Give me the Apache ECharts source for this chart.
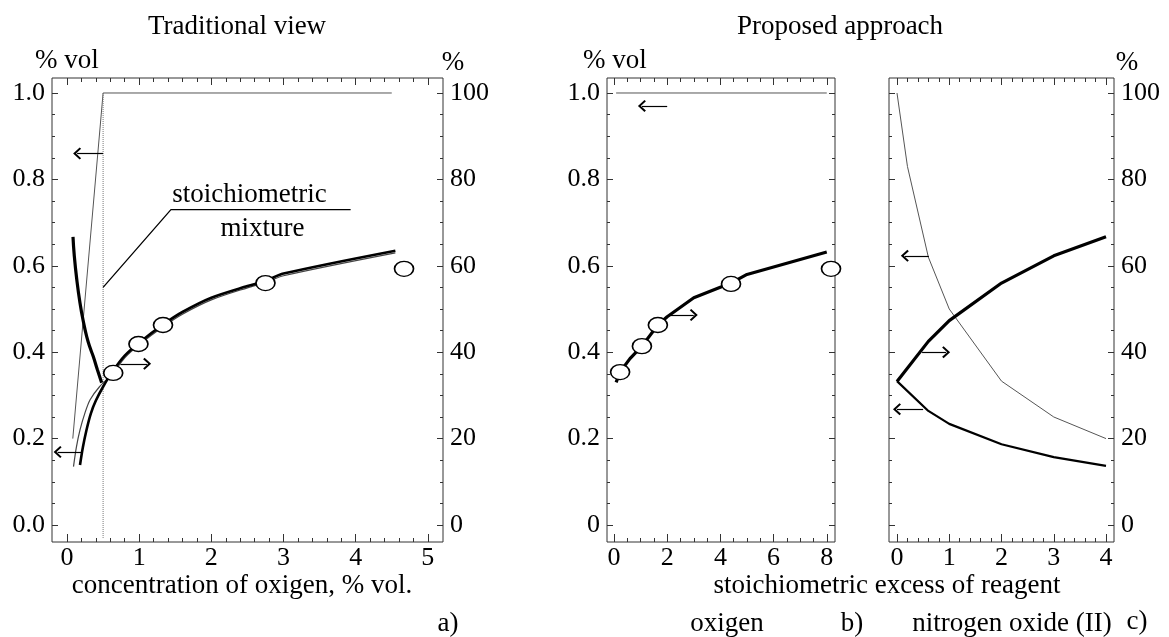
<!DOCTYPE html>
<html>
<head>
<meta charset="utf-8">
<script src="https://cdn.jsdelivr.net/npm/echarts@6/dist/echarts.min.js"></script>
<style>
  html, body { margin: 0; padding: 0; background: #fff; }
  #chart { width: 1169px; height: 637px; }
</style>
</head>
<body>
<div id="chart"></div>
<script>
var FONT = 'Liberation Serif'
var INK = '#000'
var FRAME = '#333'
var GRAY = '#555'
var TICK_FONT = 26
var TEXT_FONT = 27

// ---- panel a) traditional view ----
var aXTicks = [0, 1, 2, 3, 4, 5]
var aXLabels = ['0', '1', '2', '3', '4', '5']
var aOxygenLine = [[0.08, 0.2], [0.5, 1.0], [4.5, 1.0]]
var aStoichLine = [[0.5, 1.0], [0.5, -0.03]]
var aLeftThick = [[0.083, 0.667], [0.1, 0.625], [0.134, 0.57], [0.18, 0.514], [0.23, 0.468],
  [0.273, 0.436], [0.32, 0.41], [0.364, 0.39], [0.42, 0.36], [0.48, 0.329]]
var aRightBlack = [[0.18, 13.9], [0.22, 18], [0.27, 22], [0.33, 25.8], [0.4, 28.8], [0.5, 32],
  [0.63, 35.5], [0.8, 39.2], [1.0, 42.2], [1.35, 46.6], [1.6, 49.3], [2.0, 52.6], [2.5, 55.3],
  [2.75, 56.5], [3.0, 58.2], [4.55, 63.5]]
var aRightGray = [[0.09, 13.5], [0.13, 18], [0.18, 22], [0.25, 26], [0.32, 29], [0.45, 32],
  [0.63, 35], [0.8, 38.7], [1.0, 41.7], [1.35, 46.1], [1.6, 48.8], [2.0, 52.1], [2.5, 54.9],
  [2.75, 56.1], [3.0, 57.7], [4.55, 63.0]]
var aCircles = [[0.64, 35.2], [0.99, 41.9], [1.33, 46.3], [2.75, 56.0], [4.67, 59.3]]
var aLeader = [[0.5, 0.55], [1.44, 0.73], [3.93, 0.73]]
var aArrows = [[[0.5, 0.86], [0.14, 0.86]], [[0.22, 0.169], [-0.13, 0.169]], [[0.74, 0.373], [1.11, 0.373]]]

// ---- panel b) proposed approach, oxigen ----
var bXTicks = [0, 2, 4, 6, 8]
var bXLabels = ['0', '2', '4', '6', '8']
var bRefLine = [[0.08, 1.0], [8.0, 1.0]]
var bCurve = [[0.08, 33], [0.23, 35.4], [0.6, 38.5], [1.05, 41.4], [1.65, 46.3], [2.0, 48.2],
  [3.0, 52.6], [4.4, 56.0], [5.0, 58.0], [8.0, 63.2]]
var bCircles = [[0.23, 35.4], [1.05, 41.4], [1.65, 46.3], [4.4, 55.8], [8.16, 59.3]]
var bArrows = [[[2.0, 0.97], [1.05, 0.97]], [[2.1, 0.486], [3.0, 0.486]]]

// ---- panel c) proposed approach, nitrogen oxide (II) ----
var cXTicks = [0, 1, 2, 3, 4]
var cXLabels = ['0', '1', '2', '3', '4']
var cThin = [[0, 1.0], [0.2, 0.83], [0.6, 0.62], [1.0, 0.5], [2.0, 0.333], [3.0, 0.25], [4.0, 0.2]]
var cUpper = [[0, 33.2], [0.6, 42.5], [1.0, 47.3], [2.0, 56.0], [3.0, 62.3], [4.0, 66.7]]
var cLower = [[0, 0.333], [0.6, 0.264], [1.0, 0.234], [2.0, 0.187], [3.0, 0.157], [4.0, 0.137]]
var cArrows = [[[0.48, 0.40], [0.94, 0.40]], [[0.5, 0.268], [0.0, 0.268]], [[0.61, 0.623], [0.15, 0.623]]]

// y ticks (shared)
var volTicks = [0, 0.2, 0.4, 0.6, 0.8, 1.0]
var volLabelsA = ['0.0', '0.2', '0.4', '0.6', '0.8', '1.0']
var volLabelsB = ['0', '0.2', '0.4', '0.6', '0.8', '1.0']
var pctTicks = [0, 20, 40, 60, 80, 100]
var pctLabels = ['0', '20', '40', '60', '80', '100']

var VOL_MIN = -0.0394, VOL_MAX = 1.0347
var PCT_MIN = -3.94, PCT_MAX = 103.47

function steps (lo, hi, step) {
  var out = []
  for (var v = lo; v <= hi + 1e-9; v += step) out.push(+v.toFixed(4))
  return out
}

function labelOf (ticks, labels) {
  return function (v) {
    for (var i = 0; i < ticks.length; i++) {
      if (Math.abs(ticks[i] - v) < 1e-6) return labels[i]
    }
    return ''
  }
}

function tick (len, values) {
  return { show: true, inside: true, length: len, customValues: values, lineStyle: { color: FRAME, width: 1 } }
}

function xAxes (grid, min, max, major, minor, labels) {
  var base = { type: 'value', gridIndex: grid, min: min, max: max, splitLine: { show: false },
    axisLine: { show: false, onZero: false } }
  return [
    Object.assign({}, base, { position: 'bottom', axisTick: tick(8, major),
      axisLabel: { customValues: major, margin: 3, fontFamily: FONT, fontSize: TICK_FONT, color: INK,
        formatter: labelOf(major, labels) } }),
    Object.assign({}, base, { position: 'bottom', axisTick: tick(4, minor), axisLabel: { show: false } }),
    Object.assign({}, base, { position: 'top', axisTick: tick(7, major), axisLabel: { show: false } }),
    Object.assign({}, base, { position: 'top', axisTick: tick(4, minor), axisLabel: { show: false } })
  ]
}

function yAxes (grid, leftLabels, rightLabels) {
  var vol = { type: 'value', gridIndex: grid, min: VOL_MIN, max: VOL_MAX, splitLine: { show: false },
    axisLine: { show: false, onZero: false } }
  var pct = { type: 'value', gridIndex: grid, min: PCT_MIN, max: PCT_MAX, splitLine: { show: false },
    axisLine: { show: false, onZero: false } }
  var lab = { margin: 7, fontFamily: FONT, fontSize: TICK_FONT, color: INK }
  return [
    Object.assign({}, vol, { position: 'left', axisTick: tick(6, volTicks),
      axisLabel: leftLabels ? Object.assign({ customValues: volTicks, formatter: labelOf(volTicks, leftLabels) }, lab) : { show: false } }),
    Object.assign({}, vol, { position: 'left', axisTick: tick(3, steps(0.05, 0.95, 0.05)), axisLabel: { show: false } }),
    Object.assign({}, pct, { position: 'right', axisTick: tick(6, pctTicks),
      axisLabel: rightLabels ? Object.assign({ customValues: pctTicks, formatter: labelOf(pctTicks, rightLabels) }, lab) : { show: false } }),
    Object.assign({}, pct, { position: 'right', axisTick: tick(3, steps(5, 95, 5)), axisLabel: { show: false } })
  ]
}

var chevron = 'path://M0,9 L9,0 L18,9 L16,11 L9,4 L2,11 Z'

function arrows (list) {
  return {
    silent: true, animation: false, symbol: ['none', chevron], symbolSize: [12, 8],
    label: { show: false }, lineStyle: { color: INK, width: 1.2, type: 'solid' },
    data: list.map(function (a) { return [{ coord: a[0] }, { coord: a[1] }] })
  }
}

function line (g, onPct, data, color, width, extra) {
  return Object.assign({
    type: 'line', xAxisIndex: 4 * g, yAxisIndex: 4 * g + (onPct ? 2 : 0), data: data,
    symbol: 'none', showSymbol: false, silent: true, animation: false, clip: false,
    lineStyle: { color: color, width: width }
  }, extra || {})
}

function circles (g, data) {
  return {
    type: 'scatter', xAxisIndex: 4 * g, yAxisIndex: 4 * g + 2, data: data, silent: true, animation: false,
    symbol: 'circle', symbolSize: [19, 15], z: 5,
    itemStyle: { color: '#fff', borderColor: INK, borderWidth: 1.5, opacity: 1 }
  }
}

function text (str, x, y, align) {
  return { type: 'text', x: x, y: y, silent: true,
    style: { text: str, font: TEXT_FONT + 'px "' + FONT + '"', fill: INK, textAlign: align || 'center', textVerticalAlign: 'middle' } }
}

var gridStyle = { show: true, borderColor: FRAME, borderWidth: 1, backgroundColor: 'transparent' }

var chart = echarts.init(document.getElementById('chart'))
chart.setOption({
  animation: false,
  grid: [
    Object.assign({ left: 52, top: 78, width: 391, height: 464 }, gridStyle),
    Object.assign({ left: 607, top: 78, width: 228, height: 464 }, gridStyle),
    Object.assign({ left: 889, top: 78, width: 225, height: 464 }, gridStyle)
  ],
  xAxis: [].concat(
    xAxes(0, -0.208, 5.21, aXTicks, steps(0.2, 4.8, 0.2), aXLabels),
    xAxes(1, -0.263, 8.31, bXTicks, steps(0.5, 7.5, 0.5), bXLabels),
    xAxes(2, -0.153, 4.153, cXTicks, steps(0.2, 3.8, 0.2), cXLabels)
  ),
  yAxis: [].concat(
    yAxes(0, volLabelsA, pctLabels),
    yAxes(1, volLabelsB, null),
    yAxes(2, null, pctLabels)
  ),
  series: [
    // a)
    line(0, false, aOxygenLine, GRAY, 1, { markLine: arrows(aArrows) }),
    line(0, false, aStoichLine, '#777', 1, { lineStyle: { color: '#777', width: 1, type: [1, 1] } }),
    line(0, false, aLeftThick, INK, 3.2, { smooth: 0.5 }),
    line(0, true, aRightGray, '#444', 1.2, { smooth: 0.3 }),
    line(0, true, aRightBlack, INK, 2.6, { smooth: 0.3 }),
    circles(0, aCircles),
    line(0, false, aLeader, INK, 1.3, {
      markPoint: {
        silent: true, animation: false, symbol: 'circle', symbolSize: 0,
        label: { show: true, position: 'inside', fontFamily: FONT, fontSize: TEXT_FONT, color: INK },
        data: [
          { coord: [2.53, 0.764], label: { formatter: 'stoichiometric' } },
          { coord: [2.71, 0.685], label: { formatter: 'mixture' } }
        ]
      }
    }),
    // b)
    line(1, false, bRefLine, GRAY, 1, { markLine: arrows(bArrows) }),
    line(1, true, bCurve, INK, 3.2),
    circles(1, bCircles),
    // c)
    line(2, false, cThin, GRAY, 1, { markLine: arrows(cArrows) }),
    line(2, true, cUpper, INK, 3.2),
    line(2, false, cLower, INK, 2.2)
  ],
  graphic: [
    text('Traditional view', 237, 27),
    text('Proposed approach', 840, 27),
    text('% vol', 35, 61, 'left'),
    text('% vol', 583, 61, 'left'),
    text('%', 453, 63),
    text('%', 1127, 63),
    text('concentration of oxigen, % vol.', 242, 586),
    text('stoichiometric excess of reagent', 887, 586),
    text('a)', 448, 624),
    text('oxigen', 727, 624),
    text('b)', 852, 624),
    text('nitrogen oxide (II)', 1012, 624),
    text('c)', 1137, 622)
  ]
})
</script>
</body>
</html>
